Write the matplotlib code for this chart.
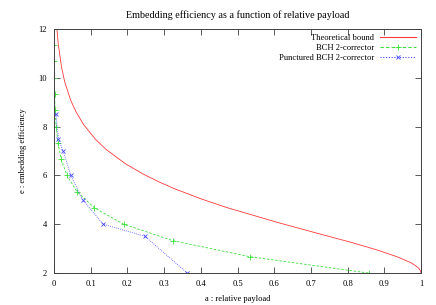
import matplotlib
matplotlib.use("Agg")
import matplotlib.pyplot as plt

plt.rcParams['font.family'] = ['Liberation Serif', 'DejaVu Serif']
plt.rcParams['font.size'] = 6.1

# theoretical bound, values
bound_a = [0.00782, 0.00835, 0.0114, 0.0208, 0.0295, 0.0454, 0.0602, 0.0808, 0.1124,
           0.1414, 0.1944, 0.2423, 0.2864, 0.3274, 0.4022, 0.4690, 0.6098, 0.7219,
           0.8113, 0.8813, 0.9341, 0.9710, 0.9815, 0.9928, 0.9974, 0.9988, 0.9997, 1.0]
bound_e = [12.03, 11.92, 11.41, 10.41, 9.82, 9.08, 8.60, 8.08, 7.49,
           7.07, 6.48, 6.06, 5.73, 5.46, 5.03, 4.69, 4.07, 3.61,
           3.25, 2.94, 2.67, 2.43, 2.34, 2.21, 2.12, 2.08, 2.04, 2.0]

# BCH 2-corrector
bch_a = [0.857, 0.533, 0.323, 0.190, 0.110, 0.0627, 0.0352, 0.0196, 0.0107,
         0.00586, 0.00317, 0.00171, 0.000916, 0.000488, 0.000259]
bch_e = [2.0, 2.67, 3.33, 4.0, 4.67, 5.33, 6.0, 6.67, 7.33,
         8.0, 8.67, 9.33, 10.0, 10.67, 11.33]

# Punctured BCH 2-corrector
pbch_a = [0.0055, 0.012, 0.025, 0.046, 0.078, 0.134, 0.248, 0.363]
pbch_e = [8.5, 7.5, 7.0, 6.0, 5.0, 4.0, 3.5, 2.0]

x_ticks = [0, 0.1, 0.2, 0.3, 0.4, 0.5, 0.6, 0.7, 0.8, 0.9, 1]
x_labels = ["0", "0.1", "0.2", "0.3", "0.4", "0.5", "0.6", "0.7", "0.8", "0.9", "1"]
y_ticks = [2, 4, 6, 8, 10, 12]

fig = plt.figure(figsize=(4.36, 3.05), dpi=100)
ax = fig.add_axes([54 / 436, 1 - 273 / 305, (421 - 54) / 436, (273 - 29) / 305])

ax.plot(bound_a, bound_e, color='#ff3a3a', lw=0.6, label='Theoretical bound')
ax.plot(bch_a, bch_e, color='#3ae03a', lw=0.6, ls=(0, (3, 2)), marker='+', ms=4,
        mew=0.6, label='BCH 2-corrector')
ax.plot(pbch_a, pbch_e, color='#4848ff', lw=0.6, ls=(0, (1, 1.5)), marker='x', ms=3.5,
        mew=0.6, label='Punctured BCH 2-corrector')

ax.set_xlim(0, 1)
ax.set_ylim(2, 12)
ax.set_xticks(x_ticks)
ax.set_xticklabels(x_labels)
ax.set_yticks(y_ticks)
ax.tick_params(direction='in', top=True, right=True, length=4, width=0.6, pad=5,
               color='#404040')
for s in ax.spines.values():
    s.set_linewidth(0.7)
    s.set_color('#404040')

ax.set_title('Embedding efficiency as a function of relative payload', pad=8)
ax.set_xlabel('a : relative payload', labelpad=5)
ax.set_ylabel('e : embedding efficiency', labelpad=8)

leg = ax.legend(loc='upper right', frameon=False, markerfirst=False, handlelength=4.2,
                handletextpad=0.7, labelspacing=0.25, borderaxespad=0.3, borderpad=0.3)
for vp in leg._legend_handle_box.get_children():
    vp.align = 'right'
for ln in leg.get_lines():
    ln.set_linewidth(0.8)

fig.savefig('out.png', dpi=100)
